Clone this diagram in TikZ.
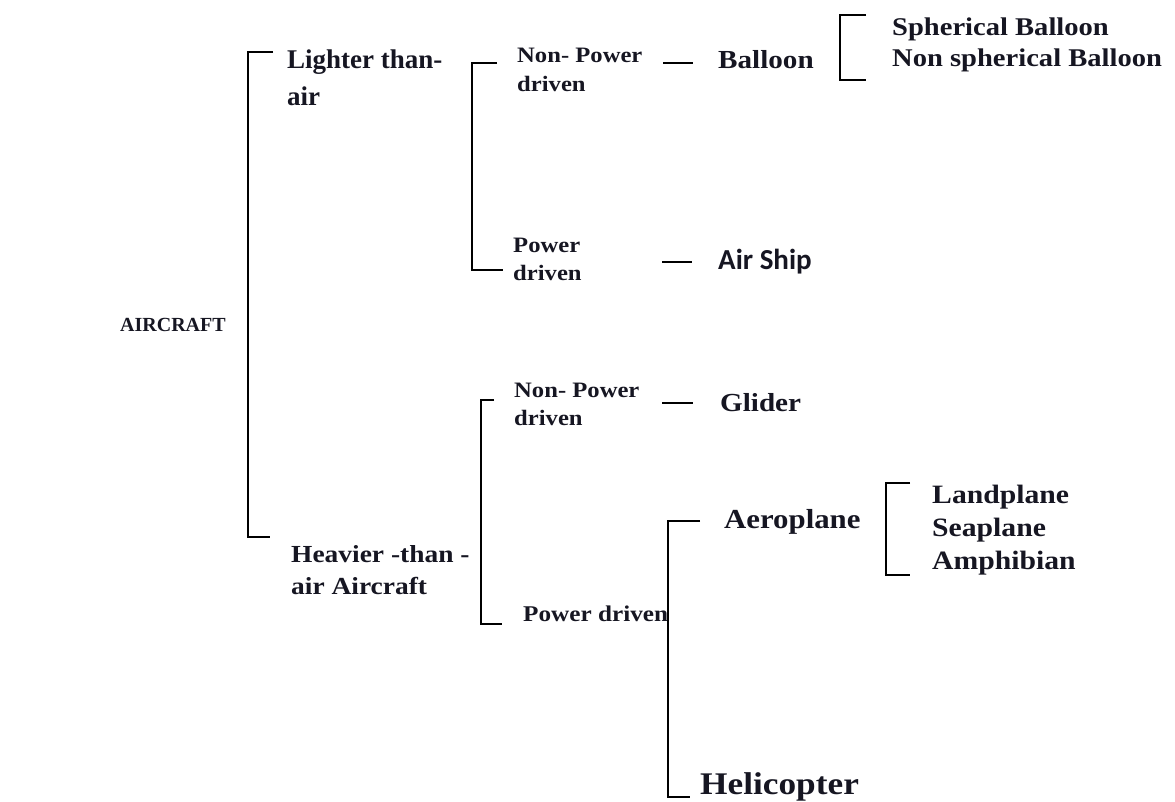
\documentclass[tikz,border=0pt]{standalone}
\usepackage{fontspec}
\setmainfont{Liberation Serif}
\newfontfamily\cbf[FakeStretch=1.12]{Liberation Serif}
\newfontfamily\sbf{Carlito}
\newcommand\fsz[2]{\fontsize{#1}{#2}\selectfont}
\definecolor{ink}{RGB}{22,22,34}
\begin{document}
\begin{tikzpicture}[x=1pt,y=-1pt,
  lbl/.style={inner sep=0pt, anchor=west, align=left, text=ink},
  tm/.style n args={2}{lbl, font=\bfseries\fsz{#1}{#2}},
  cb/.style n args={2}{lbl, font=\cbf\bfseries\fsz{#1}{#2}},
  sb/.style n args={2}{lbl, font=\sbf\bfseries\fsz{#1}{#2}},
  brk/.style={draw=black, line width=2.3pt}]
\useasboundingbox[fill=white] (0,0) rectangle (1175,801);

% labels
\node[tm={20}{24}] (air) at (120,325) {AIRCRAFT};
\node[tm={27}{37}] (lta) at (287,78) {Lighter than-\\air};
\node[cb={22}{29}] (np1) at (517,70) {Non- Power\\driven};
\node[cb={26}{30}] (bal) at (718,60) {Balloon};
\node[cb={25.5}{31}] (sph) at (892,45) {Spherical Balloon\\Non spherical Balloon};
\node[cb={22}{28}] (pd1) at (513,259) {Power\\driven};
\node[sb={29}{30}] (ash) at (718,262) {Air Ship};
\node[cb={22}{28}] (np2) at (514,404) {Non- Power\\driven};
\node[cb={26}{30}] (gli) at (720,403) {Glider};
\node[cb={24.5}{32}] (hta) at (291,570) {Heavier -than -\\air Aircraft};
\node[cb={22.5}{28}] (pd2) at (523,614) {Power driven};
\node[cb={27.5}{30}] (aer) at (724,522) {Aeroplane};
\node[cb={26.5}{33}] (lsa) at (932,530) {Landplane\\Seaplane\\Amphibian};
\node[cb={31.5}{32}] (hel) at (700,787) {Helicopter};

% bracket corners
\coordinate (b1a) at (273,52);  \coordinate (b1b) at (270,537);
\coordinate (b2a) at (497,63);  \coordinate (b2b) at (503,270);
\coordinate (b3a) at (866,15);  \coordinate (b3b) at (866,80);
\coordinate (b4a) at (494,400); \coordinate (b4b) at (502,624);
\coordinate (b5a) at (700,521); \coordinate (b5b) at (690,797);
\coordinate (b6a) at (910,483); \coordinate (b6b) at (910,575);

\draw[brk] (b1a) -- (248,52) -- (248,537) -- (b1b);
\draw[brk] (b2a) -- (472,63) -- (472,270) -- (b2b);
\draw[brk] (b3a) -- (840,15) -- (840,80) -- (b3b);
\draw[brk] (b4a) -- (481,400) -- (481,624) -- (b4b);
\draw[brk] (b5a) -- (668,521) -- (668,797) -- (b5b);
\draw[brk] (b6a) -- (886,483) -- (886,575) -- (b6b);

% dashes between levels
\coordinate (d1a) at (663,63);  \coordinate (d1b) at (693,63);
\coordinate (d2a) at (662,262); \coordinate (d2b) at (692,262);
\coordinate (d3a) at (662,403); \coordinate (d3b) at (693,403);
\draw[brk] (d1a) -- (d1b);
\draw[brk] (d2a) -- (d2b);
\draw[brk] (d3a) -- (d3b);
\end{tikzpicture}
\end{document}
